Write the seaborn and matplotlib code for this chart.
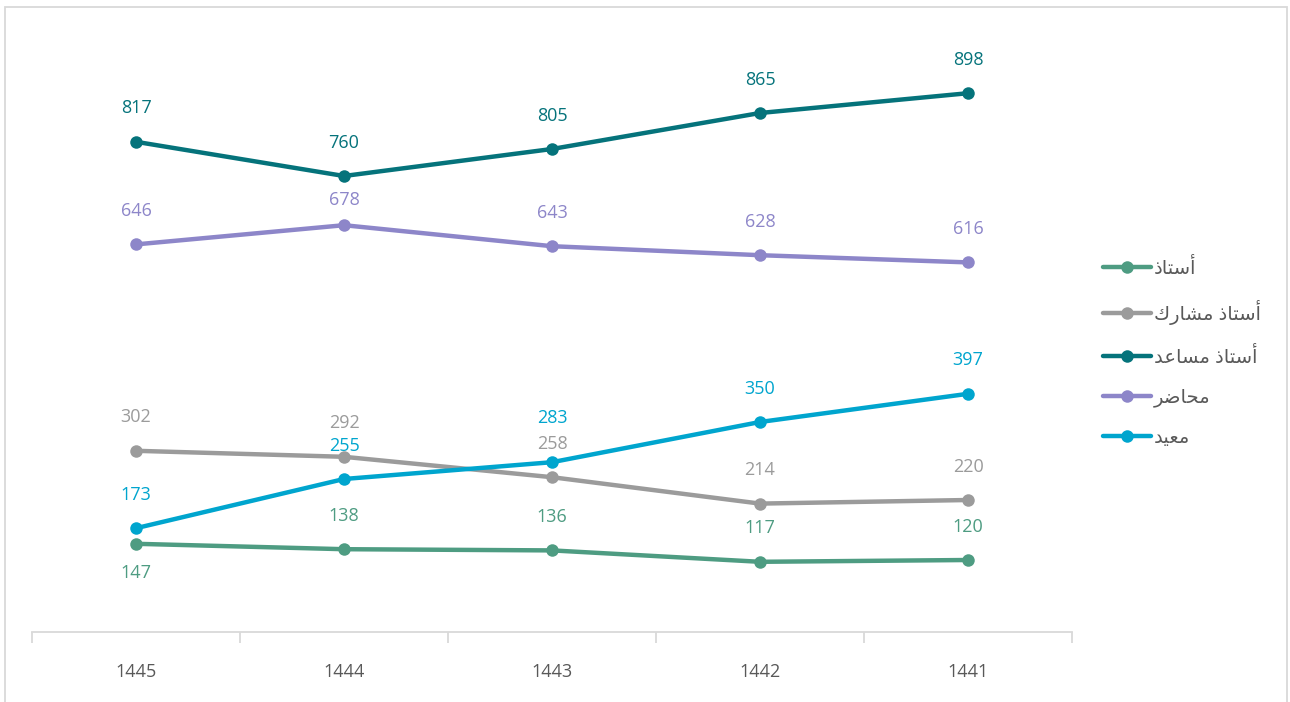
import pandas as pd
import numpy as np
import matplotlib
matplotlib.use("Agg")
import matplotlib.pyplot as plt
import seaborn as sns
from matplotlib.lines import Line2D
from matplotlib.patches import Rectangle

# data
years = ['1445', '1444', '1443', '1442', '1441']
ranks = ['أستاذ', 'أستاذ مشارك', 'أستاذ مساعد', 'محاضر', 'معيد']
prof = [147, 138, 136, 117, 120]
assoc = [302, 292, 258, 214, 220]
assist = [817, 760, 805, 865, 898]
lecturer = [646, 678, 643, 628, 616]
demonstrator = [173, 255, 283, 350, 397]

colors = ['#4E9C82', '#9B9B9B', '#05737B', '#8D86C9', '#00A5CE']
color_axis = '#D9D9D9'
color_tick = '#595959'

# matplotlib has no arabic shaping, so join letters by hand (presentation forms)
forms = {  # iso, final, initial, medial
    'أ': ('\uFE83', '\uFE84', None, None),
    'ا': ('\uFE8D', '\uFE8E', None, None),
    'ذ': ('\uFEAB', '\uFEAC', None, None),
    'د': ('\uFEA9', '\uFEAA', None, None),
    'ر': ('\uFEAD', '\uFEAE', None, None),
    'س': ('\uFEB1', '\uFEB2', '\uFEB3', '\uFEB4'),
    'ت': ('\uFE95', '\uFE96', '\uFE97', '\uFE98'),
    'م': ('\uFEE1', '\uFEE2', '\uFEE3', '\uFEE4'),
    'ش': ('\uFEB5', '\uFEB6', '\uFEB7', '\uFEB8'),
    'ك': ('\uFED9', '\uFEDA', '\uFEDB', '\uFEDC'),
    'ع': ('\uFEC9', '\uFECA', '\uFECB', '\uFECC'),
    'ح': ('\uFEA1', '\uFEA2', '\uFEA3', '\uFEA4'),
    'ض': ('\uFEBD', '\uFEBE', '\uFEBF', '\uFEC0'),
    'ي': ('\uFEF1', '\uFEF2', '\uFEF3', '\uFEF4'),
}

def shape(text):
    out = []
    for i, ch in enumerate(text):
        if ch not in forms:
            out.append(ch)
            continue
        prev = text[i-1] if i > 0 else ' '
        nxt = text[i+1] if i < len(text)-1 else ' '
        join_prev = prev in forms and forms[prev][2] is not None
        join_next = nxt in forms and forms[ch][2] is not None
        iso, fin, ini, med = forms[ch]
        if join_prev and join_next:
            out.append(med)
        elif join_prev:
            out.append(fin)
        elif join_next:
            out.append(ini)
        else:
            out.append(iso)
    return ''.join(out)[::-1]

series = [prof, assoc, assist, lecturer, demonstrator]
df = pd.DataFrame({
    'year': years * len(ranks),
    'rank': np.repeat(ranks, len(years)),
    'value': np.concatenate(series),
})

sns.set_style('white')
plt.rcParams['font.family'] = ['Open Sans', 'DejaVu Sans']

fig = plt.figure(figsize=(12.9, 7.02), dpi=100)
ax = fig.add_axes([32/1290, 70/702, 1040/1290, 600/702])

sns.lineplot(data=df, x='year', y='value', hue='rank', palette=colors,
             marker='o', markersize=9, markeredgewidth=0, linewidth=3.2,
             sort=False, legend=False, ax=ax)

# data labels, mostly above the point; a few nudged like in the original
nudge = {(147, 0): -21, (678, 1): 18, (283, 2): 32}
for vals, c in zip(series, colors):
    for i, v in enumerate(vals):
        off = nudge.get((v, i), 24)
        ax.annotate(str(v), (i, v), xytext=(0, off), textcoords='offset points',
                    ha='center', va='center', fontsize=13, color=c)

ax.set_xlim(-0.5, 4.5)
ax.set_ylim(0, 1000)
sns.despine(ax=ax, left=True, top=True, right=True)
ax.spines['bottom'].set_color(color_axis)
ax.spines['bottom'].set_linewidth(1.3)
ax.set_yticks([])
ax.set_xticks(range(len(years)))
ax.set_xticklabels(years, fontsize=13, color=color_tick)
ax.set_xticks(np.arange(-0.5, 5, 1), minor=True)
ax.tick_params(axis='x', which='major', length=0, pad=22)
ax.tick_params(axis='x', which='minor', length=8, width=1.3, color=color_axis, bottom=True)
ax.set_xlabel('')
ax.set_ylabel('')

handles = [Line2D([0], [0], color=c, lw=3.2, marker='o', markersize=9, markeredgewidth=0)
           for c in colors]
ax.legend(handles, [shape(r) for r in ranks], loc='center left',
          bbox_to_anchor=(1.02, 0.466), frameon=False, fontsize=14,
          handlelength=2.5, handletextpad=0.15, labelspacing=1.12,
          labelcolor=color_tick, borderpad=0)

fig.patches.append(Rectangle((5/1290, -0.05), 1282/1290, 1.05 - 7/702,
                             transform=fig.transFigure, fill=False,
                             edgecolor=color_axis, lw=1.3))

fig.savefig('out.png', dpi=100)
